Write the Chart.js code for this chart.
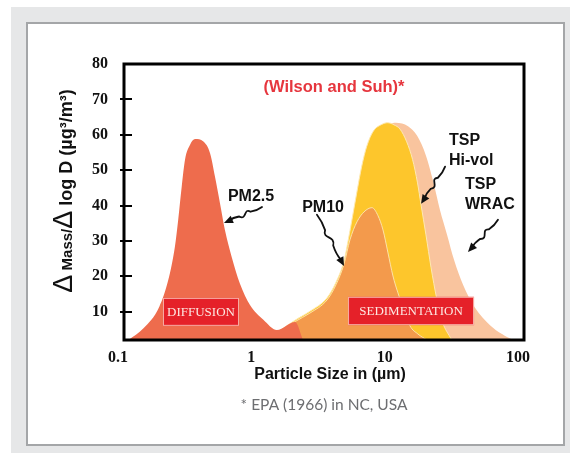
<!DOCTYPE html>
<html>
<head>
<meta charset="utf-8">
<script src="https://cdn.jsdelivr.net/npm/chart.js@4.4.1/dist/chart.umd.min.js"></script>
<style>
html, body { margin: 0; padding: 0; background: #fff; }
#wrap { position: relative; width: 570px; height: 453px; }
</style>
</head>
<body>
<div id="wrap"><canvas id="chart" width="570" height="453"></canvas></div>
<script>
// particle size (µm) and ΔMass/ΔlogD, one pair of arrays per curve
var pm25Size = [0.108, 0.140, 0.184, 0.215, 0.241, 0.255, 0.271, 0.287, 0.313, 0.341, 0.394, 0.442, 0.481, 0.525, 0.572, 0.643, 0.741, 0.881, 1.11, 1.40, 1.92, 2.20];
var pm25Mass = [2, 5.3, 11.4, 19, 28.4, 36, 45.4, 53, 57.2, 58.8, 58.1, 54.8, 48.2, 40.6, 33, 25.4, 17.9, 11.9, 7.7, 4.8, 7.1, 2];

var pm10Size = [1.2, 1.5, 1.92, 2.48, 3.33, 3.89, 4.47, 4.95, 5.59, 6.31, 7.24, 8.04, 8.76, 9.55, 10.4, 11.35, 13.96, 16.0, 18.7];
var pm10Mass = [2, 4.5, 7.2, 9.6, 13.3, 17.6, 23.5, 30.3, 35.4, 38.2, 39.4, 37.1, 33.1, 26.6, 20.1, 15.3, 6, 3.7, 2];

var hivolSize = [1.2, 1.5, 1.92, 2.48, 3.33, 3.89, 4.47, 4.81, 5.56, 6.06, 6.61, 7.41, 8.56, 9.5, 10.6, 11.75, 13.2, 14.6, 15.9, 16.9, 18.4, 20.1, 22.1, 24.3, 28.7];
var hivolMass = [2, 4.8, 7.6, 10.1, 13.9, 18.3, 24.4, 30.3, 43.5, 51, 56.7, 61, 62.9, 63.4, 62.8, 61.6, 58, 53, 46.4, 40.2, 31.7, 22.4, 13.9, 7.4, 2];

var wracSize = [1.2, 1.5, 1.92, 2.48, 3.33, 4.47, 5.56, 6.61, 7.41, 8.56, 9.6, 10.96, 13.5, 15.8, 18.4, 20.8, 23.4, 26.5, 29.9, 34.9, 42.9, 55.6, 68.4, 82.7];
var wracMass = [2, 4, 6.8, 9.3, 13, 23, 42, 55.5, 60, 62.2, 63, 63.4, 62.4, 59.7, 54.1, 46.9, 38.8, 31.7, 24.6, 17.6, 11.1, 6.2, 3.7, 2];

var xTicks = [0.1, 1, 10, 100];
var xTickLabels = ['0.1', '1', '10', '100'];
var yTicks = [10, 20, 30, 40, 50, 60, 70, 80];

// annotations, placed in data units
var textNotes = [
    { text: 'PM2.5', x: 0.897, y: 42.5, align: 'center' },
    { text: 'PM10', x: 3.11, y: 39.4, align: 'center' },
    { text: 'TSP', x: 27.4, y: 58.3, align: 'left' },
    { text: 'Hi-vol', x: 27.4, y: 52.7, align: 'left' },
    { text: 'TSP', x: 36.1, y: 45.9, align: 'left' },
    { text: 'WRAC', x: 36.1, y: 40.2, align: 'left' }
];
var arrowNotes = [
    { from: [1.084, 39.6], to: [0.562, 35.1] },
    { from: [2.80, 37.4], to: [4.47, 22.9] },
    { from: [25.6, 51], to: [16.9, 40.5] },
    { from: [63.8, 36], to: [38, 26.9] }
];
var boxNotes = [
    { text: 'DIFFUSION', x0: 0.196, x1: 0.729, y0: 6, y1: 13.9 },
    { text: 'SEDIMENTATION', x0: 4.79, x1: 42.2, y0: 6.2, y1: 14.2 }
];

var SANS = '"Liberation Sans", Arial, sans-serif';
var SERIF = '"Liberation Serif", "Times New Roman", serif';

function toPoints(xs, ys) {
    return xs.map(function(x, i) { return { x: x, y: ys[i] }; });
}

function area(label, xs, ys, color, edge) {
    return {
        label: label,
        data: toPoints(xs, ys),
        backgroundColor: color,
        borderColor: edge || color,
        borderWidth: edge ? 1 : 0,
        fill: 'start',
        pointRadius: 0,
        cubicInterpolationMode: 'monotone'
    };
}

// squiggly hand-drawn style arrow with a filled head
function drawArrow(ctx, x0, y0, x1, y1) {
    var dx = x1 - x0, dy = y1 - y0;
    var L = Math.sqrt(dx * dx + dy * dy);
    var ux = dx / L, uy = dy / L, nx = -uy, ny = ux;
    function p(t, s) { return [x0 + ux * L * t + nx * s, y0 + uy * L * t + ny * s]; }
    var a = p(0.3, 0), c1 = p(0.42, 7), c2 = p(0.46, -7), b = p(0.6, 0), e = p(0.86, 0);
    ctx.save();
    ctx.strokeStyle = '#111';
    ctx.fillStyle = '#111';
    ctx.lineWidth = 1.8;
    ctx.lineCap = 'round';
    ctx.beginPath();
    ctx.moveTo(x0, y0);
    ctx.quadraticCurveTo(p(0.15, -1.5)[0], p(0.15, -1.5)[1], a[0], a[1]);
    ctx.bezierCurveTo(c1[0], c1[1], c2[0], c2[1], b[0], b[1]);
    ctx.quadraticCurveTo(p(0.75, 1.5)[0], p(0.75, 1.5)[1], e[0], e[1]);
    ctx.stroke();
    ctx.beginPath();
    ctx.moveTo(x1, y1);
    ctx.lineTo(x1 - ux * 9 + nx * 4, y1 - uy * 9 + ny * 4);
    ctx.lineTo(x1 - ux * 9 - nx * 4, y1 - uy * 9 - ny * 4);
    ctx.closePath();
    ctx.fill();
    ctx.restore();
}

var decor = {
    id: 'decor',
    beforeDraw: function(chart) {
        var ctx = chart.ctx;
        ctx.save();
        ctx.fillStyle = '#fff';
        ctx.fillRect(0, 0, 570, 453);
        ctx.fillStyle = '#e6e7e8';
        ctx.fillRect(11, 7, 559, 446);
        ctx.fillStyle = '#fff';
        ctx.fillRect(27, 23, 537, 422);
        ctx.strokeStyle = '#a4a6a8';
        ctx.lineWidth = 2;
        ctx.strokeRect(27, 23, 537, 422);
        ctx.restore();
    },
    afterDatasetsDraw: function(chart) {
        var ctx = chart.ctx;
        var xs = chart.scales.x, ys = chart.scales.y;
        var ca = chart.chartArea;
        ctx.save();

        // labelled boxes
        boxNotes.forEach(function(b) {
            var l = xs.getPixelForValue(b.x0), r = xs.getPixelForValue(b.x1);
            var t = ys.getPixelForValue(b.y1), btm = ys.getPixelForValue(b.y0);
            ctx.fillStyle = '#e52129';
            ctx.fillRect(l, t, r - l, btm - t);
            ctx.strokeStyle = 'rgba(250,190,180,0.9)';
            ctx.lineWidth = 1;
            ctx.strokeRect(l + 0.5, t + 0.5, r - l - 1, btm - t - 1);
            ctx.fillStyle = '#fde8e2';
            ctx.font = '13px ' + SERIF;
            ctx.textAlign = 'center';
            ctx.textBaseline = 'middle';
            ctx.fillText(b.text, (l + r) / 2, (t + btm) / 2 + 1);
        });

        // curve labels and arrows
        ctx.fillStyle = '#111';
        ctx.font = 'bold 16px ' + SANS;
        ctx.textBaseline = 'middle';
        textNotes.forEach(function(n) {
            ctx.textAlign = n.align;
            ctx.fillText(n.text, xs.getPixelForValue(n.x), ys.getPixelForValue(n.y));
        });
        arrowNotes.forEach(function(a) {
            drawArrow(ctx,
                xs.getPixelForValue(a.from[0]), ys.getPixelForValue(a.from[1]),
                xs.getPixelForValue(a.to[0]), ys.getPixelForValue(a.to[1]));
        });

        // plot frame and y tick marks crossing it
        ctx.strokeStyle = '#000';
        ctx.lineWidth = 3;
        ctx.strokeRect(ca.left, ca.top, ca.right - ca.left, ca.bottom - ca.top);
        ctx.lineWidth = 2;
        yTicks.forEach(function(v) {
            if (v >= 80) return;
            var y = Math.round(ys.getPixelForValue(v));
            ctx.beginPath();
            ctx.moveTo(ca.left - 4, y);
            ctx.lineTo(ca.left + 8, y);
            ctx.stroke();
        });

        // titles
        ctx.textAlign = 'center';
        ctx.textBaseline = 'middle';
        ctx.fillStyle = '#e6363e';
        ctx.font = 'bold 16.5px ' + SANS;
        ctx.fillText('(Wilson and Suh)*', 334, 87);
        ctx.fillStyle = '#111';
        ctx.font = 'bold 16px ' + SANS;
        ctx.fillText('Particle Size in (µm)', 330, 375);
        ctx.fillStyle = '#6d6e71';
        ctx.font = '15.5px Lato, "Noto Sans", sans-serif';
        ctx.fillText('* EPA (1966) in NC, USA', 324, 405);

        // rotated y title with large deltas
        var parts = [
            { t: 'Δ', f: '27px ' + SANS },
            { t: ' Mass/', f: 'bold 15px ' + SANS },
            { t: 'Δ', f: '27px ' + SANS },
            { t: ' log D (µg³/m³)', f: 'bold 18px ' + SANS }
        ];
        var total = 0;
        parts.forEach(function(p) { ctx.font = p.f; p.w = ctx.measureText(p.t).width; total += p.w; });
        ctx.translate(72, 191);
        ctx.rotate(-Math.PI / 2);
        ctx.textAlign = 'left';
        ctx.textBaseline = 'alphabetic';
        ctx.fillStyle = '#111';
        var cx = -total / 2;
        parts.forEach(function(p) {
            ctx.font = p.f;
            ctx.fillText(p.t, cx, 0);
            cx += p.w;
        });
        ctx.restore();
    }
};

new Chart(document.getElementById('chart'), {
    type: 'line',
    data: {
        datasets: [
            area('PM2.5', pm25Size, pm25Mass, '#ee6c4d'),
            area('PM10', pm10Size, pm10Mass, '#f39a4c', '#fde2a6'),
            area('TSP Hi-vol', hivolSize, hivolMass, '#fdc62c', '#fee9b0'),
            area('TSP WRAC', wracSize, wracMass, '#f9c49e')
        ]
    },
    options: {
        responsive: false,
        animation: false,
        devicePixelRatio: 1,
        layout: { padding: { left: 0, top: 64, right: 46, bottom: 0 } },
        plugins: { legend: { display: false }, tooltip: { enabled: false }, title: { display: false } },
        scales: {
            x: {
                type: 'logarithmic',
                min: 0.1,
                max: 100,
                grid: { display: false, drawTicks: false, tickLength: 0 },
                border: { display: false },
                afterBuildTicks: function(scale) {
                    scale.ticks = xTicks.map(function(v) { return { value: v }; });
                },
                afterFit: function(scale) { scale.height = 113; },
                ticks: {
                    autoSkip: false,
                    maxRotation: 0,
                    padding: 8,
                    labelOffset: -6,
                    color: '#111',
                    font: { family: SERIF, size: 16, weight: 'bold' },
                    callback: function(value) {
                        var i = xTicks.indexOf(value);
                        return i >= 0 ? xTickLabels[i] : '';
                    }
                }
            },
            y: {
                min: 2,
                max: 80,
                grid: { display: false, drawTicks: false, tickLength: 0 },
                border: { display: false },
                afterBuildTicks: function(scale) {
                    scale.ticks = yTicks.map(function(v) { return { value: v }; });
                },
                afterFit: function(scale) { scale.width = 124; },
                ticks: {
                    padding: 16,
                    color: '#111',
                    font: { family: SERIF, size: 16, weight: 'bold' }
                }
            }
        }
    },
    plugins: [decor]
});
</script>
</body>
</html>
